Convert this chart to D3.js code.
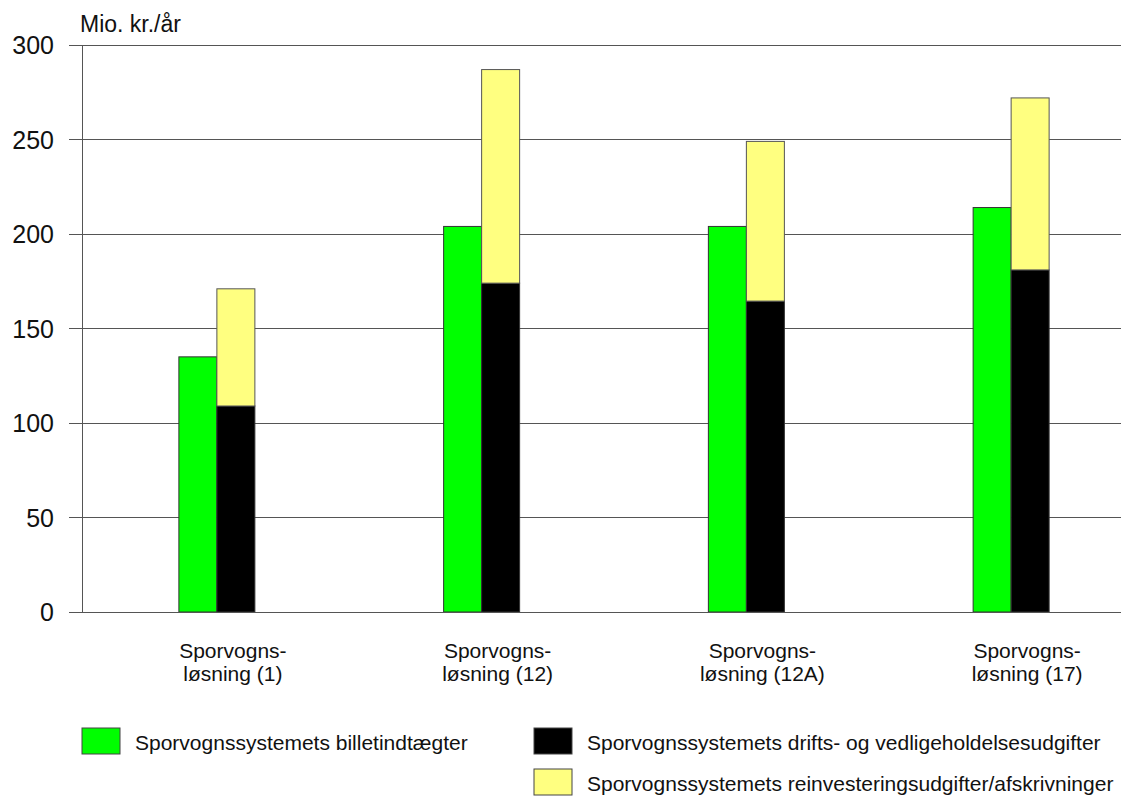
<!DOCTYPE html>
<html>
<head>
<meta charset="utf-8">
<script src="https://cdn.jsdelivr.net/npm/d3@7"></script>
<style>
  html, body { margin: 0; padding: 0; background: #fff; }
  svg { display: block; font-family: "Liberation Sans", Arial, sans-serif; }
</style>
</head>
<body>
<svg id="chart" width="1123" height="796"></svg>
<script>
// Categories (two-line labels) and series values, Mio. kr./år
const categories = ["Sporvognsløsning (1)", "Sporvognsløsning (12)", "Sporvognsløsning (12A)", "Sporvognsløsning (17)"];
const categoryLines = [["Sporvogns-", "løsning (1)"], ["Sporvogns-", "løsning (12)"], ["Sporvogns-", "løsning (12A)"], ["Sporvogns-", "løsning (17)"]];
const billetindtaegter = [135, 204, 204, 214];
const driftsudgifter = [109, 174, 164.5, 181];
const reinvesteringer = [62, 113, 84.5, 91];
const yTicks = [0, 50, 100, 150, 200, 250, 300];
const seriesNames = [
  "Sporvognssystemets billetindtægter",
  "Sporvognssystemets drifts- og vedligeholdelsesudgifter",
  "Sporvognssystemets reinvesteringsudgifter/afskrivninger"
];
const colors = { green: "#00ff00", black: "#000000", yellow: "#ffff80" };

const svg = d3.select("#chart");
const plotLeft = 82, plotRight = 1121, plotTop = 45, plotBottom = 612;

const y = d3.scaleLinear().domain([0, 300]).range([plotBottom, plotTop]);
const x = d3.scaleBand().domain(categories).range([84.5, 1143.5]).padding(0);
const barW = 38;

// Gridlines with short tick stubs left of the axis
svg.append("g").selectAll("line").data(yTicks).join("line")
  .attr("x1", 69).attr("x2", plotRight)
  .attr("y1", d => y(d)).attr("y2", d => y(d))
  .attr("stroke", "#555").attr("stroke-width", 1)
  .attr("shape-rendering", "crispEdges");

// Vertical axis line
svg.append("line")
  .attr("x1", plotLeft).attr("x2", plotLeft).attr("y1", plotTop).attr("y2", plotBottom)
  .attr("stroke", "#555").attr("stroke-width", 1)
  .attr("shape-rendering", "crispEdges");

// Tick labels
svg.append("g").selectAll("text").data(yTicks).join("text")
  .attr("x", 54).attr("y", d => y(d) + 9)
  .attr("text-anchor", "end")
  .attr("font-size", 25)
  .attr("fill", "#111")
  .text(d => d);

// Unit label
svg.append("text")
  .attr("x", 80).attr("y", 32)
  .attr("font-size", 23).attr("fill", "#111")
  .text("Mio. kr./år");

const groups = svg.append("g").selectAll("g").data(categories).join("g");

// Green bars: ticket revenue
groups.append("rect")
  .attr("x", d => x(d) + x.bandwidth() / 2 - barW)
  .attr("width", barW)
  .attr("y", (d, i) => y(billetindtaegter[i]))
  .attr("height", (d, i) => y(0) - y(billetindtaegter[i]))
  .attr("fill", colors.green).attr("stroke", "#333").attr("stroke-width", 1);

// Black bars: operating costs
groups.append("rect")
  .attr("x", d => x(d) + x.bandwidth() / 2)
  .attr("width", barW)
  .attr("y", (d, i) => y(driftsudgifter[i]))
  .attr("height", (d, i) => y(0) - y(driftsudgifter[i]))
  .attr("fill", colors.black).attr("stroke", "#333").attr("stroke-width", 1);

// Yellow bars stacked on top of the black bars: reinvestment
groups.append("rect")
  .attr("x", d => x(d) + x.bandwidth() / 2)
  .attr("width", barW)
  .attr("y", (d, i) => y(driftsudgifter[i] + reinvesteringer[i]))
  .attr("height", (d, i) => y(driftsudgifter[i]) - y(driftsudgifter[i] + reinvesteringer[i]))
  .attr("fill", colors.yellow).attr("stroke", "#555").attr("stroke-width", 1);

// Redraw the bottom gridline over bar bases
svg.append("line")
  .attr("x1", 69).attr("x2", plotRight).attr("y1", y(0)).attr("y2", y(0))
  .attr("stroke", "#555").attr("stroke-width", 1)
  .attr("shape-rendering", "crispEdges");

// Category labels
groups.each(function(d, i) {
  const cx = x(d) + x.bandwidth() / 2 + 16;
  d3.select(this).append("text")
    .attr("text-anchor", "middle")
    .attr("font-size", 21).attr("fill", "#111")
    .selectAll("tspan").data(categoryLines[i]).join("tspan")
    .attr("x", cx)
    .attr("y", (t, j) => 658 + j * 23)
    .text(t => t);
});

// Legend
const legend = [
  { name: seriesNames[0], color: colors.green, bx: 82, by: 728 },
  { name: seriesNames[1], color: colors.black, bx: 534, by: 728 },
  { name: seriesNames[2], color: colors.yellow, bx: 534, by: 769 }
];
const lg = svg.append("g").selectAll("g").data(legend).join("g");
lg.append("rect")
  .attr("x", d => d.bx).attr("y", d => d.by)
  .attr("width", 38).attr("height", 26)
  .attr("fill", d => d.color).attr("stroke", "#444").attr("stroke-width", 1);
lg.append("text")
  .attr("x", d => d.bx + 53).attr("y", d => d.by + 22)
  .attr("font-size", 21).attr("fill", "#111")
  .text(d => d.name);
</script>
</body>
</html>
